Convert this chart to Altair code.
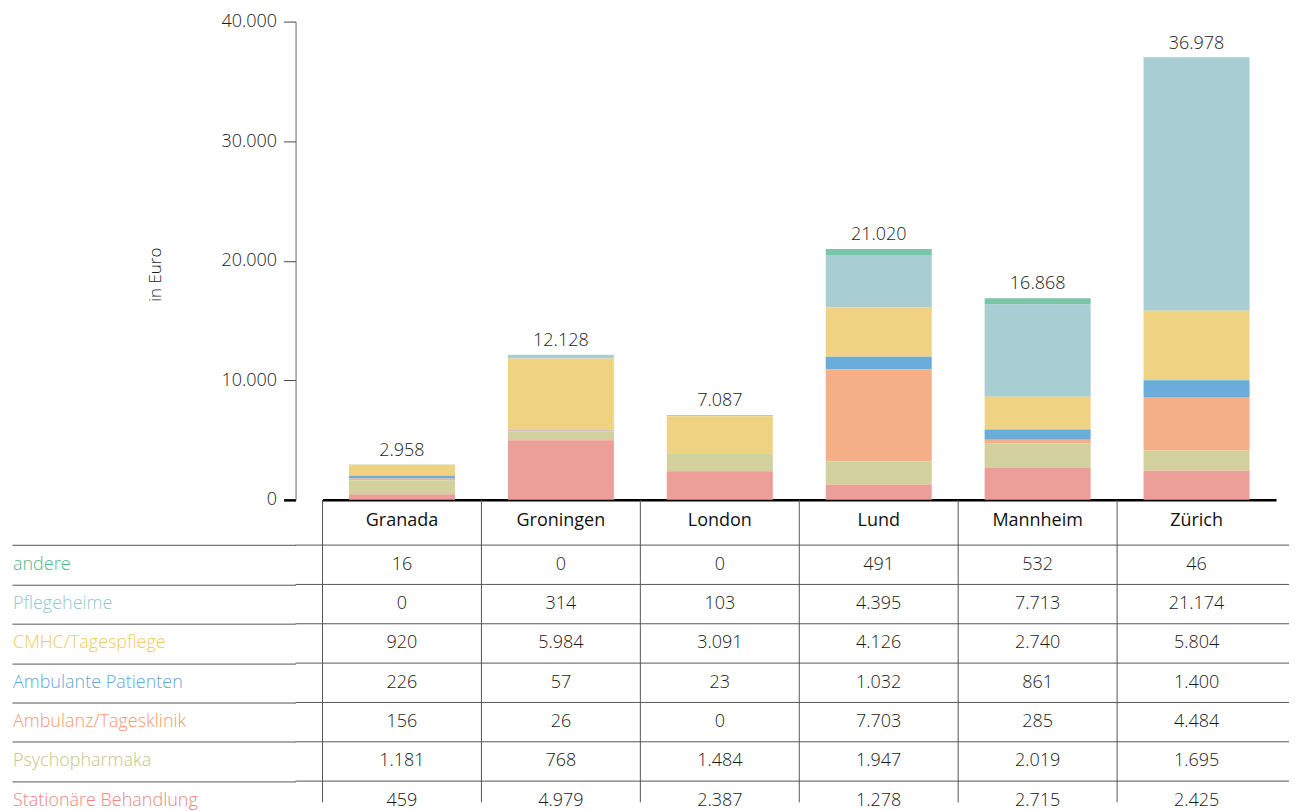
import altair as alt
import pandas as pd

cities = ["Granada", "Groningen", "London", "Lund", "Mannheim", "Zürich"]
categories = ["andere", "Pflegeheime", "CMHC/Tagespflege", "Ambulante Patienten",
              "Ambulanz/Tagesklinik", "Psychopharmaka", "Stationäre Behandlung"]
andere = [16, 0, 0, 491, 532, 46]
pflegeheime = [0, 314, 103, 4395, 7713, 21174]
cmhc = [920, 5984, 3091, 4126, 2740, 5804]
ambulante = [226, 57, 23, 1032, 861, 1400]
ambulanz = [156, 26, 0, 7703, 285, 4484]
psycho = [1181, 768, 1484, 1947, 2019, 1695]
stationaer = [459, 4979, 2387, 1278, 2715, 2425]
totals = [2958, 12128, 7087, 21020, 16868, 36978]
y_ticks = [0, 10000, 20000, 30000, 40000]
row_lines = [-0.5, 0.5, 1.5, 2.5, 3.5, 4.5, 5.5]

bar_colors = ["#7AC4A8", "#A8CDD2", "#EFD383", "#6BADDA", "#F5AF87", "#D2D09C", "#EC9E98"]
text_colors = ["#4FB88C", "#93C7CE", "#EFC95F", "#5FA8DA", "#F39A70", "#C6C684", "#EA8583"]

series = [andere, pflegeheime, cmhc, ambulante, ambulanz, psycho, stationaer]
rows = []
for i, (cat, vals) in enumerate(zip(categories, series)):
    for city, v in zip(cities, vals):
        rows.append({"city": city, "category": cat, "row": i, "order": 6 - i, "value": v})
df = pd.DataFrame(rows)
df_tot = pd.DataFrame({"city": cities, "total": totals})
df_head = pd.DataFrame({"city": cities, "row": [-1.117] * len(cities)})
df_lab = pd.DataFrame({"label": categories, "row": list(range(len(categories)))})
df_lines = pd.DataFrame({"v": row_lines})
df_cols = pd.DataFrame({"city": cities})

FONT = "Open Sans"
TXT = "#1a1a1a"
LIGHT = 300
W = 995
STEP = 39.4
TOP = -1.65
H_TABLE = 303

xscale = alt.Scale(domain=cities, range=[27, 982], paddingInner=0, paddingOuter=0)

bars = alt.Chart(df).mark_bar(width=alt.RelativeBandSize(0.667)).encode(
    x=alt.X("city:N", sort=cities, scale=xscale,
            axis=alt.Axis(title=None, labels=False, ticks=False, domainColor="#000000",
                          domainWidth=2.5, grid=False)),
    y=alt.Y("value:Q", stack="zero",
            scale=alt.Scale(domain=[0, 40000], nice=False),
            axis=alt.Axis(values=y_ticks, format=",d", title="in Euro", grid=False,
                          tickSize=12, labelPadding=7, labelFontSize=18, labelColor=TXT,
                          labelFont=FONT, labelFontWeight=LIGHT,
                          domainColor="#666666", domainWidth=1,
                          tickColor={"condition": {"test": "datum.value == 0", "value": "#000000"}, "value": "#444444"},
                          tickWidth={"condition": {"test": "datum.value == 0", "value": 2.5}, "value": 1},
                          titleX=-131, titleY=253, titleFontSize=17, titleFontWeight=LIGHT,
                          titleColor=TXT, titleFont=FONT, titleAlign="center")),
    color=alt.Color("category:N", scale=alt.Scale(domain=categories, range=bar_colors), legend=None),
    order=alt.Order("order:Q"),
)

tot_text = alt.Chart(df_tot).mark_text(baseline="bottom", dy=-5, fontSize=18, font=FONT,
                                       fontWeight=LIGHT, color=TXT).encode(
    x=alt.X("city:N", sort=cities, scale=xscale),
    y=alt.Y("total:Q"),
    text=alt.Text("total:Q", format=",d"),
)

top = alt.layer(bars, tot_text).properties(width=W, height=479)

ybot = TOP + H_TABLE / STEP
yscale_t = alt.Scale(domain=[TOP, ybot], reverse=True, nice=False, zero=False)

hlines = alt.Chart(df_lines).mark_rule(color="#555555", strokeWidth=1).encode(
    y=alt.Y("v:Q", scale=yscale_t,
            axis=alt.Axis(title=None, values=row_lines, domain=False, grid=False, labels=False,
                          tickSize=284, tickColor="#555555", tickWidth=1)),
)

vlines = alt.Chart(df_cols).mark_rule(color="#555555", strokeWidth=1).encode(
    x=alt.X("city:N", sort=cities, scale=xscale, bandPosition=0, axis=None),
)

cells = alt.Chart(df).mark_text(fontSize=18, font=FONT, fontWeight=LIGHT, color=TXT).encode(
    x=alt.X("city:N", sort=cities, scale=xscale),
    y=alt.Y("row:Q", scale=yscale_t),
    text=alt.Text("value:Q", format=",d"),
)

heads = alt.Chart(df_head).mark_text(fontSize=18, font=FONT, fontWeight=500, color="#111111").encode(
    x=alt.X("city:N", sort=cities, scale=xscale),
    y=alt.Y("row:Q", scale=yscale_t),
    text="city:N",
)

labels = alt.Chart(df_lab).mark_text(fontSize=18, font=FONT, fontWeight=LIGHT, align="left").encode(
    x=alt.value(-283),
    y=alt.Y("row:Q", scale=yscale_t),
    text="label:N",
    color=alt.Color("label:N", scale=alt.Scale(domain=categories, range=text_colors), legend=None),
)

table = alt.layer(hlines, vlines, cells, heads, labels).properties(width=W, height=H_TABLE)

chart = alt.vconcat(top, table, spacing=0, bounds="flush").resolve_scale(
    color="independent"
).properties(
    padding={"left": 3, "top": 4, "right": 0, "bottom": 0}
).configure(
    locale={"number": {"decimal": ",", "thousands": ".", "grouping": [3], "currency": ["", " €"]}},
    font=FONT,
).configure_view(strokeWidth=0, stroke="transparent")

chart.save("out.html", embed_options={"renderer": "svg", "actions": False})
